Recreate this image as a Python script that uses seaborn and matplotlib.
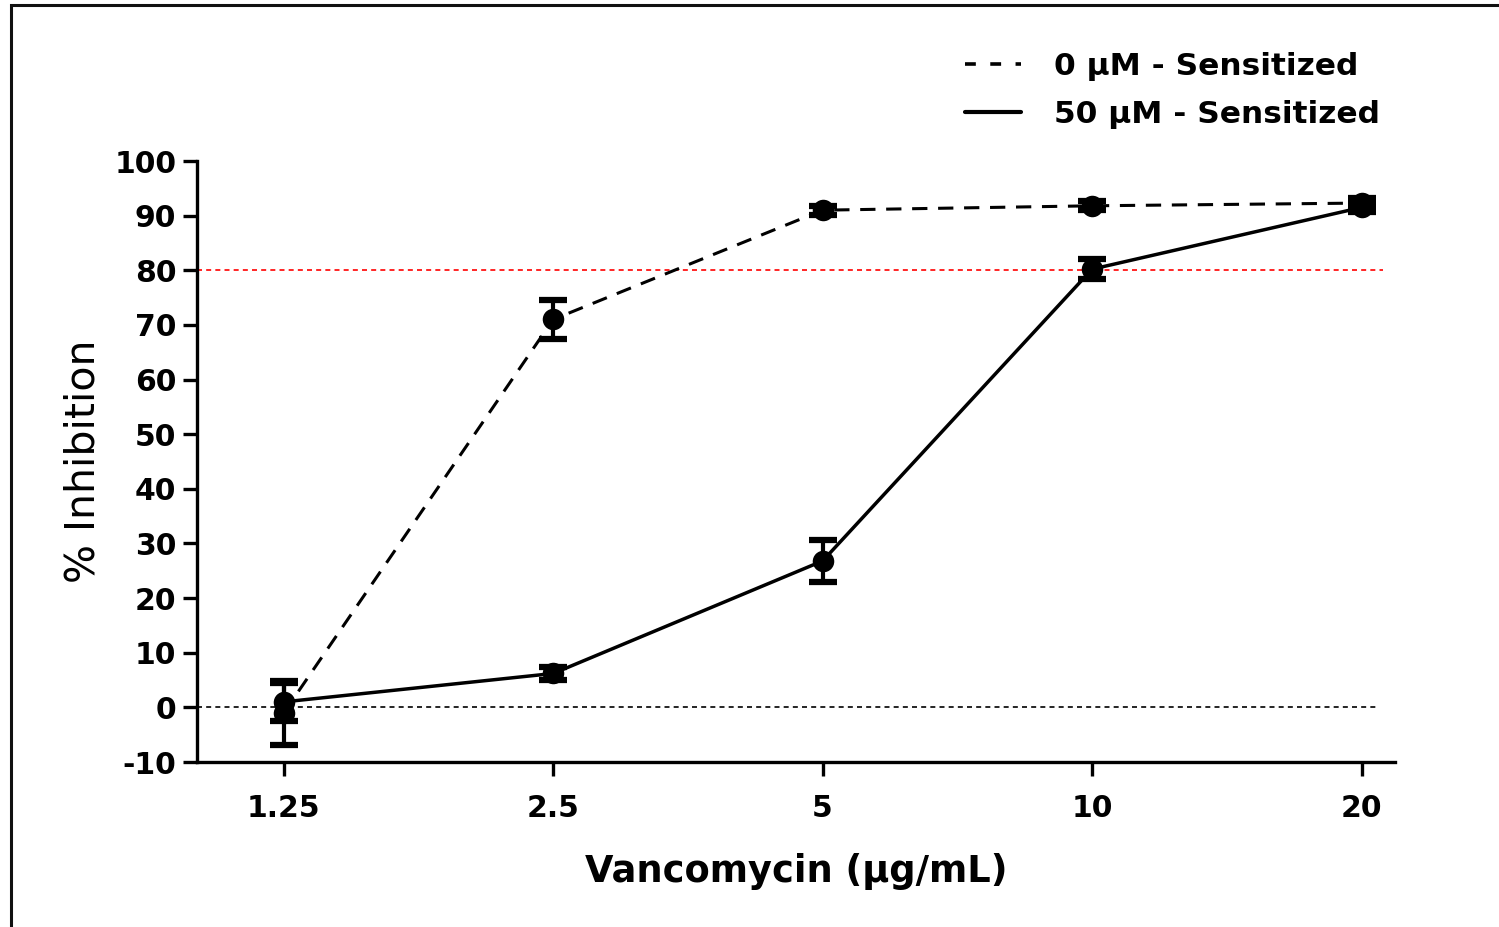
import matplotlib
matplotlib.use("Agg")
import matplotlib.pyplot as plt
import seaborn as sns
import pandas as pd
import numpy as np
from matplotlib.patches import Rectangle
from matplotlib.lines import Line2D
from matplotlib.ticker import FixedLocator, NullLocator

sns.set_theme(style="ticks")
plt.rcParams['font.family'] = ['DejaVu Sans']
plt.rcParams['text.color'] = 'black'
plt.rcParams['axes.labelcolor'] = 'black'
plt.rcParams['xtick.color'] = 'black'
plt.rcParams['ytick.color'] = 'black'

# Data
conc = [1.25, 2.5, 5, 10, 20]
conc_labels = ["1.25", "2.5", "5", "10", "20"]
inh_0uM = [-1.0, 71.0, 91.0, 91.8, 92.3]
sem_0uM = [5.9, 3.6, 0.8, 0.8, 1.0]
inh_50uM = [1.0, 6.2, 26.8, 80.2, 91.5]
sem_50uM = [3.5, 1.2, 3.8, 1.8, 0.8]
series_names = ["0 µM - Sensitized", "50 µM - Sensitized"]
threshold = 80
yticks = list(range(-10, 101, 10))

df = pd.DataFrame({
    "conc": conc * 2,
    "inh": inh_0uM + inh_50uM,
    "sem": sem_0uM + sem_50uM,
    "series": [series_names[0]] * 5 + [series_names[1]] * 5,
})

W, H = 1499, 927
fig = plt.figure(figsize=(W / 100, H / 100), dpi=100)
ax = fig.add_axes([197 / W, 1 - 762 / H, (1395 - 197) / W, (762 - 161) / H])

# frame around figure
fig.patches.append(Rectangle((11 / W, -0.2), 1.3, 1 - 5 / H + 0.2, transform=fig.transFigure,
                             fill=False, edgecolor="#111111", linewidth=2.2, zorder=0))

# reference lines
ax.axhline(0, color="black", linestyle=(0, (3, 2.5)), linewidth=1.2, xmax=0.987, zorder=1)
ax.axhline(threshold, color="red", linestyle=(0, (3, 2.5)), linewidth=1.2, xmax=0.99, zorder=1)

styles = {series_names[0]: (0, (5, 3.5)), series_names[1]: "-"}
lws = {series_names[0]: 2.2, series_names[1]: 2.5}
for name in series_names:
    sub = df[df.series == name]
    sns.lineplot(data=sub, x="conc", y="inh", ax=ax, color="black", linestyle=styles[name],
                 linewidth=lws[name], marker="o", markersize=15.5, markeredgewidth=0,
                 legend=False, zorder=3)
    ax.errorbar(sub.conc, sub.inh, yerr=sub["sem"], fmt="none", ecolor="black",
                elinewidth=3, capsize=10, capthick=4.5, zorder=4)

ax.set_xscale("log", base=2)
ax.set_xlim(1.0, 21.8)
ax.set_ylim(-10, 100)
ax.xaxis.set_major_locator(FixedLocator(conc))
ax.xaxis.set_minor_locator(NullLocator())
ax.set_xticklabels(conc_labels)
ax.set_yticks(yticks)
ax.set_yticklabels([str(v) for v in yticks])

for s in ["top", "right"]:
    ax.spines[s].set_visible(False)
for s in ["left", "bottom"]:
    ax.spines[s].set_linewidth(2.4)
    ax.spines[s].set_color("black")
ax.tick_params(axis="both", which="major", direction="out", length=10, width=2.4,
               color="black", labelsize=21.5, pad=5)
for lbl in ax.get_xticklabels() + ax.get_yticklabels():
    lbl.set_fontweight("bold")
ax.tick_params(axis="x", pad=13)

ax.set_xlabel("Vancomycin (µg/mL)", fontsize=26.5, fontweight="bold", labelpad=22)
ax.set_ylabel("% Inhibition", fontsize=29.5, fontweight="normal", labelpad=8)

handles = [Line2D([], [], color="black", linestyle=(0, (3.0, 4.0)), linewidth=2.6),
           Line2D([], [], color="black", linestyle="-", linewidth=3.0)]
fig.legend(handles, series_names, loc="upper left", bbox_to_anchor=(965 / W, 1 - 52 / H),
           frameon=False, prop={"size": 22.5, "weight": "bold"}, handlelength=1.8,
           handletextpad=1.05, labelspacing=0.6, borderaxespad=0, borderpad=0)

fig.savefig("out.png", dpi=100)
